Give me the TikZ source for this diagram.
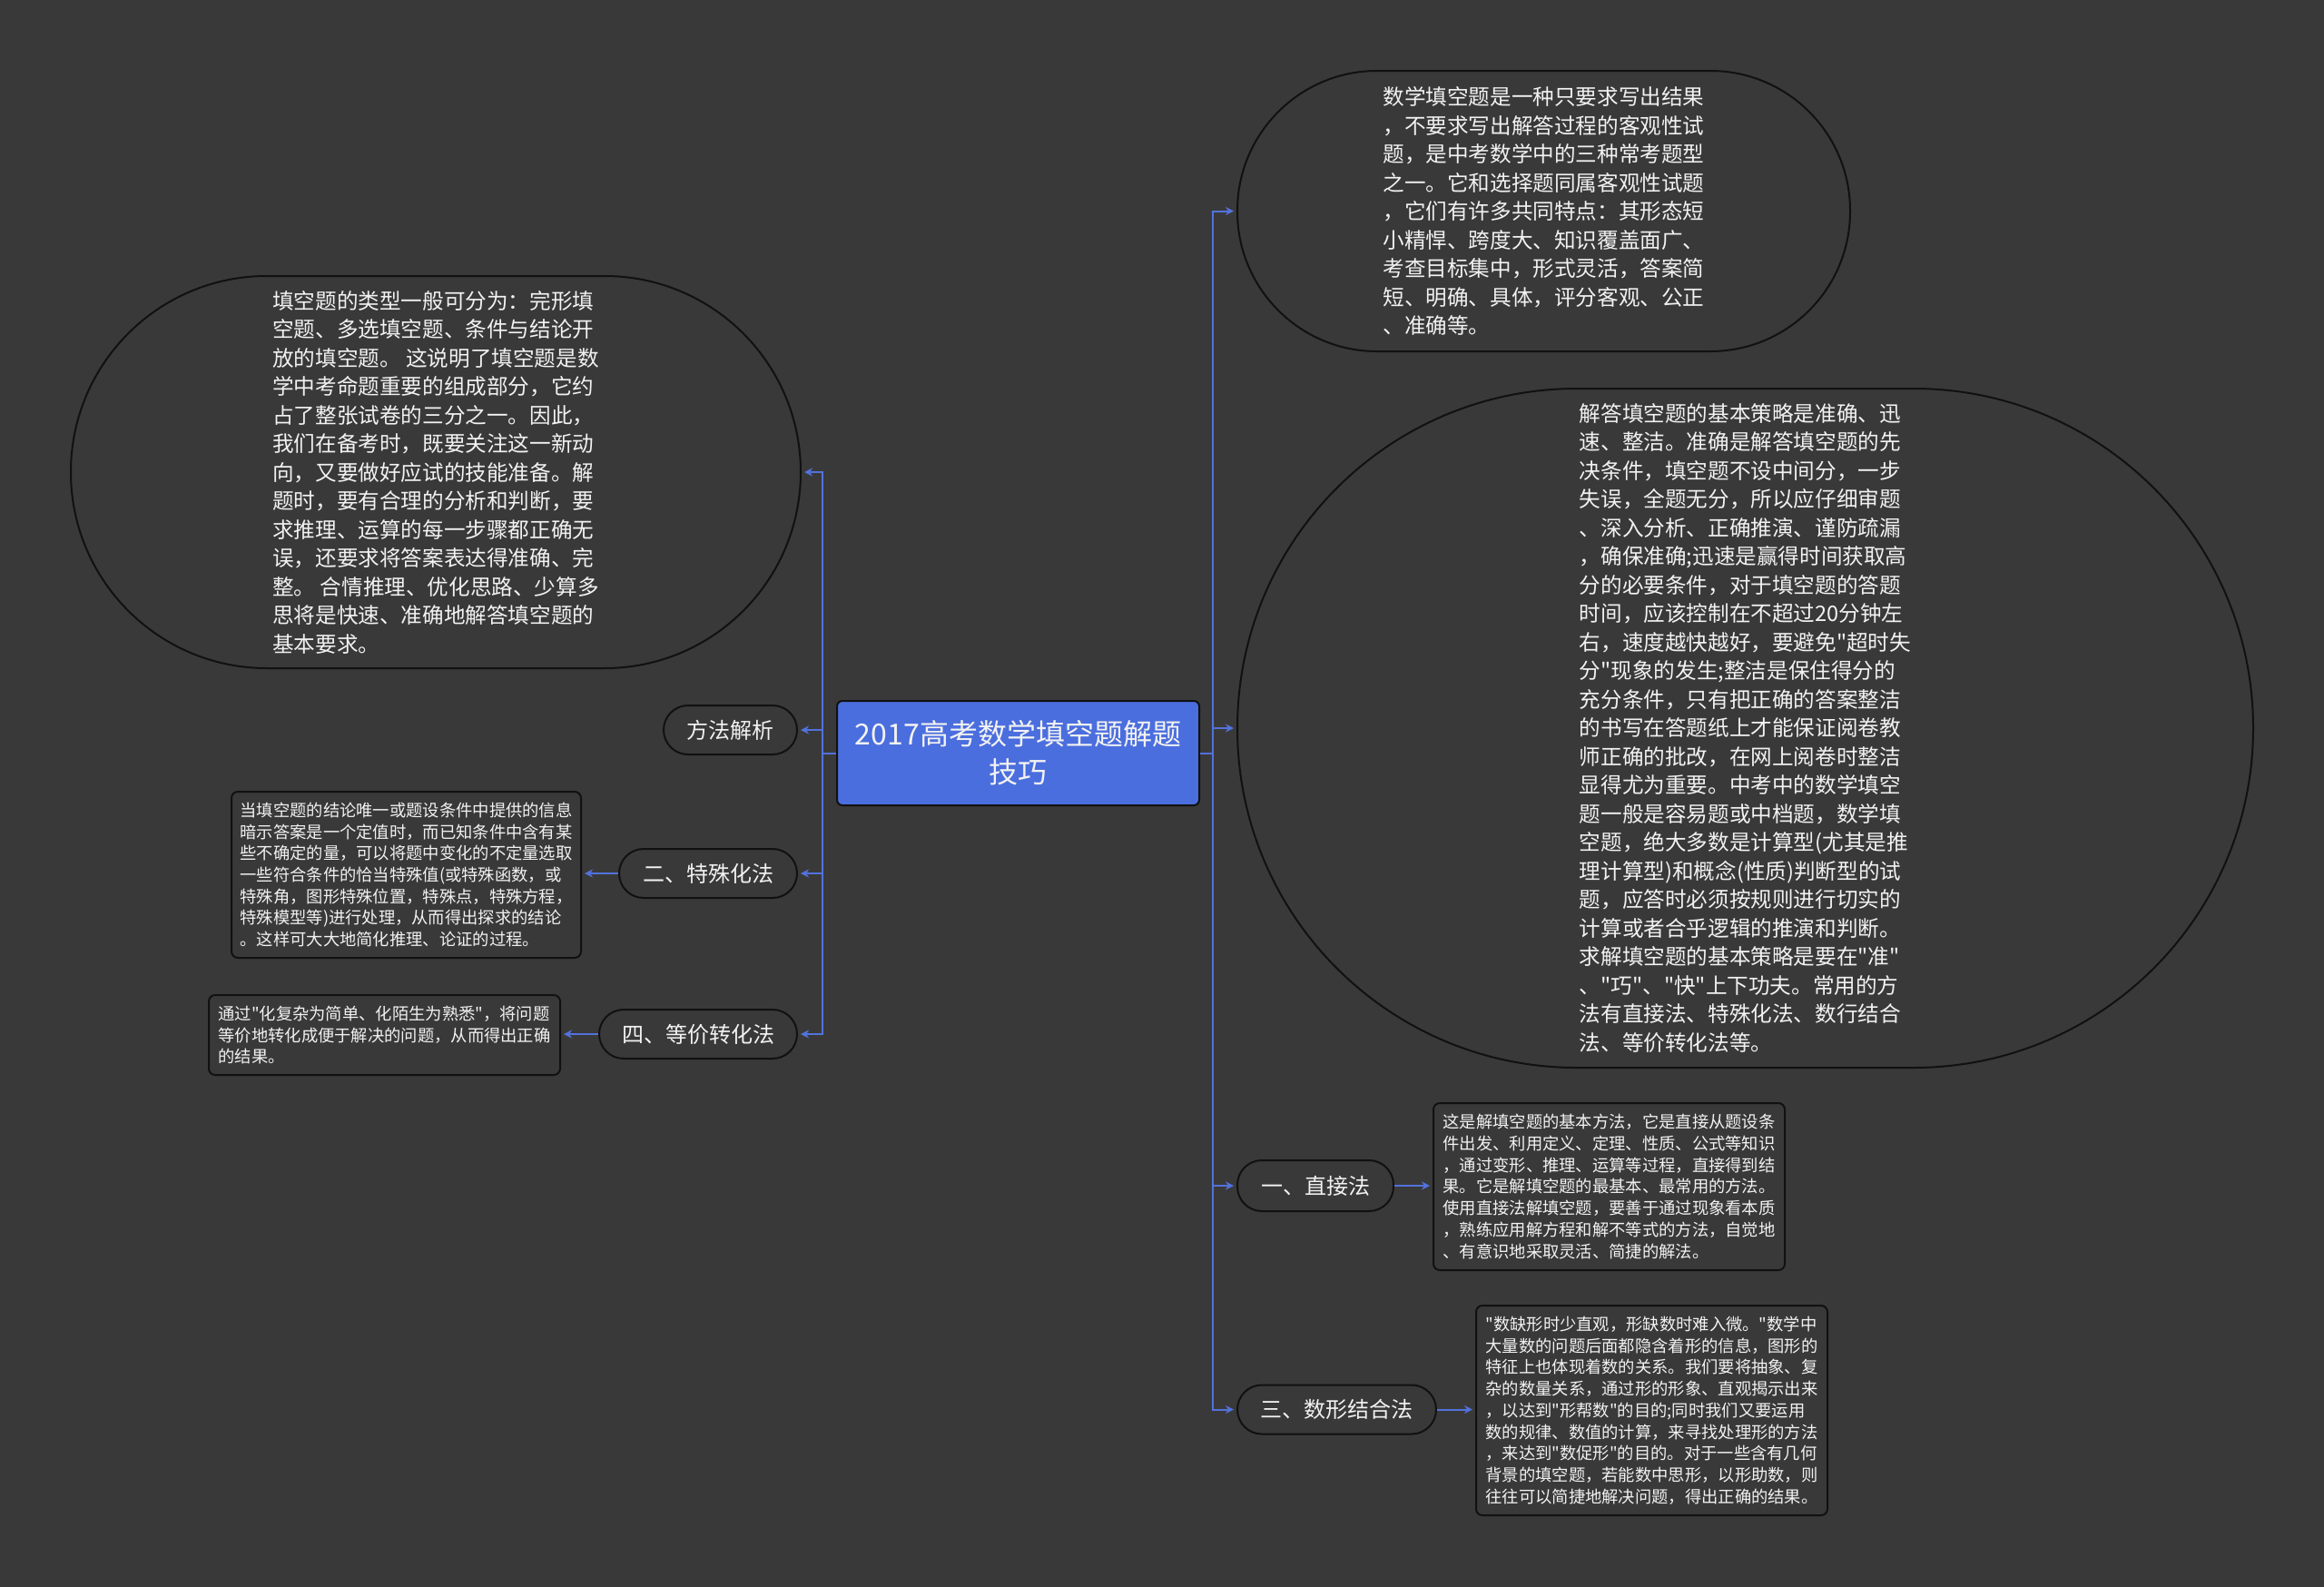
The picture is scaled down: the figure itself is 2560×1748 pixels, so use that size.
\documentclass[tikz,border=0pt]{standalone}
\usepackage{fontspec}
\setmainfont{Noto Sans CJK SC}[Ligatures=TeXOff]
\usetikzlibrary{arrows.meta}
\definecolor{bgc}{HTML}{3A393A}
\definecolor{linkc}{HTML}{5272DC}
\definecolor{rootc}{HTML}{4B6EDE}
\definecolor{edgec}{HTML}{111111}
\definecolor{txtc}{HTML}{F2F2F2}
\tikzset{
  base/.style={draw=edgec, line width=2pt, text=txtc, inner sep=0pt, fill=bgc},
  bigtext/.style={font=\fontsize{23.6}{31.5}\selectfont, align=left},
  smalltext/.style={font=\fontsize{18.3}{23.7}\selectfont, align=left},
  pill/.style={base, rounded corners=27pt, minimum height=54pt, font=\fontsize{24}{30}\selectfont},
  leaf/.style={base, rounded corners=7pt, smalltext},
  conn/.style={draw=linkc, line width=2pt, -{Stealth[length=9pt,width=9pt]}, shorten >=3pt},
  trunk/.style={draw=linkc, line width=2pt}
}
\begin{document}
\begin{tikzpicture}[x=1pt,y=-1pt]
\fill[bgc] (0,0) rectangle (2560,1748);
\useasboundingbox (0,0) rectangle (2560,1748);

% root
\node[base, fill=rootc, rounded corners=6pt, minimum width=399pt, minimum height=115pt,
  font=\fontsize{32}{42}\selectfont, align=center] (root) at (1121.5,829.5)
  {2017高考数学填空题解题\\技巧};

% right side
\node[base, bigtext, rounded corners=154pt, minimum width=675pt, minimum height=309pt] (top) at (1700.5,232.5)
{数学填空题是一种只要求写出结果\\
，不要求写出解答过程的客观性试\\
题，是中考数学中的三种常考题型\\
之一。它和选择题同属客观性试题\\
，它们有许多共同特点：其形态短\\
小精悍、跨度大、知识覆盖面广、\\
考查目标集中，形式灵活，答案简\\
短、明确、具体，评分客观、公正\\
、准确等。};

\node[base, bigtext, rounded corners=374pt, minimum width=1119pt, minimum height=748pt] (big) at (1922.5,802)
{解答填空题的基本策略是准确、迅\\
速、整洁。准确是解答填空题的先\\
决条件，填空题不设中间分，一步\\
失误，全题无分，所以应仔细审题\\
、深入分析、正确推演、谨防疏漏\\
，确保准确;迅速是赢得时间获取高\\
分的必要条件，对于填空题的答题\\
时间，应该控制在不超过20分钟左\\
右，速度越快越好，要避免"超时失\\
分"现象的发生;整洁是保住得分的\\
充分条件，只有把正确的答案整洁\\
的书写在答题纸上才能保证阅卷教\\
师正确的批改，在网上阅卷时整洁\\
显得尤为重要。中考中的数学填空\\
题一般是容易题或中档题，数学填\\
空题，绝大多数是计算型(尤其是推\\
理计算型)和概念(性质)判断型的试\\
题，应答时必须按规则进行切实的\\
计算或者合乎逻辑的推演和判断。\\
求解填空题的基本策略是要在"准"\\
、"巧"、"快"上下功夫。常用的方\\
法有直接法、特殊化法、数行结合\\
法、等价转化法等。};

\node[pill, minimum width=172pt, minimum height=56pt] (m1) at (1449,1306) {一、直接法};
\node[pill, minimum width=219pt] (m3) at (1472.5,1552.5) {三、数形结合法};

\node[leaf, minimum width=387pt, minimum height=184pt] (l1) at (1772.5,1307)
{这是解填空题的基本方法，它是直接从题设条\\
件出发、利用定义、定理、性质、公式等知识\\
，通过变形、推理、运算等过程，直接得到结\\
果。它是解填空题的最基本、最常用的方法。\\
使用直接法解填空题，要善于通过现象看本质\\
，熟练应用解方程和解不等式的方法，自觉地\\
、有意识地采取灵活、简捷的解法。};

\node[leaf, minimum width=387pt, minimum height=231pt] (l3) at (1819.5,1553.5)
{"数缺形时少直观，形缺数时难入微。"数学中\\
大量数的问题后面都隐含着形的信息，图形的\\
特征上也体现着数的关系。我们要将抽象、复\\
杂的数量关系，通过形的形象、直观揭示出来\\
，以达到"形帮数"的目的;同时我们又要运用\\
数的规律、数值的计算，来寻找处理形的方法\\
，来达到"数促形"的目的。对于一些含有几何\\
背景的填空题，若能数中思形，以形助数，则\\
往往可以简捷地解决问题，得出正确的结果。};

% left side
\node[base, bigtext, rounded corners=216pt, minimum width=804pt, minimum height=432pt] (left) at (480,520)
{填空题的类型一般可分为：完形填\\
空题、多选填空题、条件与结论开\\
放的填空题。 这说明了填空题是数\\
学中考命题重要的组成部分，它约\\
占了整张试卷的三分之一。因此，\\
我们在备考时，既要关注这一新动\\
向，又要做好应试的技能准备。解\\
题时，要有合理的分析和判断，要\\
求推理、运算的每一步骤都正确无\\
误，还要求将答案表达得准确、完\\
整。 合情推理、优化思路、少算多\\
思将是快速、准确地解答填空题的\\
基本要求。};

\node[pill, minimum width=147pt] (m0) at (804.5,804) {方法解析};
\node[pill, minimum width=196pt] (m2) at (780,962) {二、特殊化法};
\node[pill, minimum width=218pt] (m4) at (769,1139) {四、等价转化法};

\node[leaf, minimum width=385pt, minimum height=183pt] (l2) at (447.5,963.5)
{当填空题的结论唯一或题设条件中提供的信息\\
暗示答案是一个定值时，而已知条件中含有某\\
些不确定的量，可以将题中变化的不定量选取\\
一些符合条件的恰当特殊值(或特殊函数，或\\
特殊角，图形特殊位置，特殊点，特殊方程，\\
特殊模型等)进行处理，从而得出探求的结论\\
。这样可大大地简化推理、论证的过程。};

\node[leaf, minimum width=387pt, minimum height=88pt] (l4) at (423.5,1140)
{通过"化复杂为简单、化陌生为熟悉"，将问题\\
等价地转化成便于解决的问题，从而得出正确\\
的结果。};

% connectors
\coordinate (RT) at (1335.5,829.5);
\coordinate (LT) at (906,829.5);
\draw[trunk] (root.east) -- (RT);
\draw[trunk] (root.west) -- (LT);
\foreach \n in {top,big,m1,m3}{
  \draw[conn] (RT) |- (\n.west);
}
\foreach \n in {left,m0,m2,m4}{
  \draw[conn] (LT) |- (\n.east);
}
\draw[conn] (m1.east) -- (l1.west |- m1.east);
\draw[conn] (m3.east) -- (l3.west |- m3.east);
\draw[conn] (m2.west) -- (l2.east |- m2.west);
\draw[conn] (m4.west) -- (l4.east |- m4.west);
\end{tikzpicture}
\end{document}
